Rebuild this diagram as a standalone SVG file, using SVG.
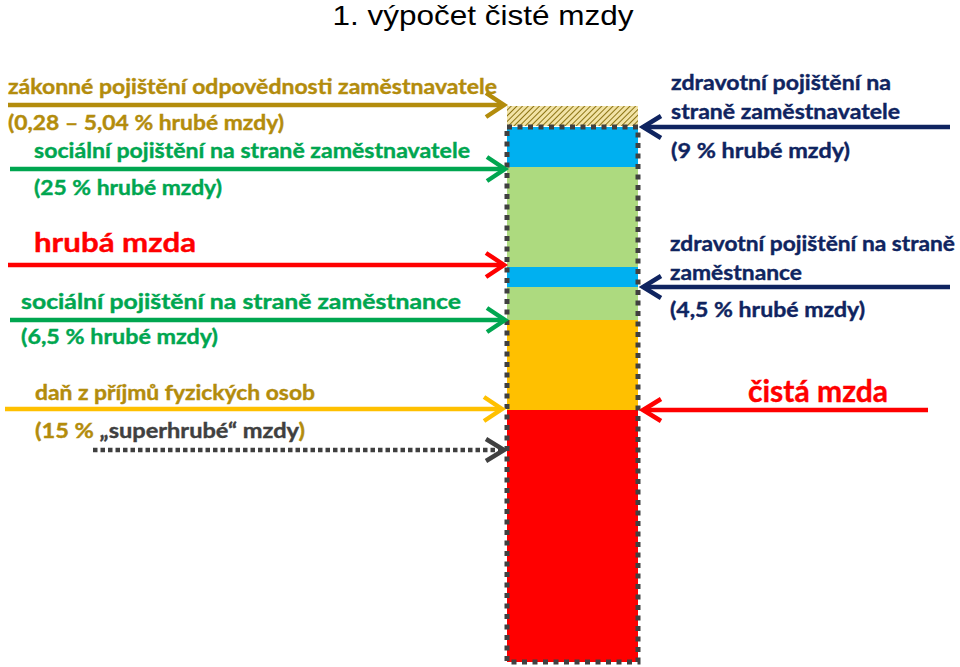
<svg xmlns="http://www.w3.org/2000/svg" width="960" height="667" viewBox="0 0 960 667">
<style>
.t{font-family:Lato,"Open Sans","Liberation Sans",sans-serif;font-weight:bold;font-size:21.5px;stroke-width:0.4px}
.gold{fill:#B38C0C;stroke:#B38C0C}.green{fill:#00A650;stroke:#00A650}.red{fill:#FF0000;stroke:#FF0000}.navy{fill:#0F2460;stroke:#0F2460}.gray{fill:#404040;stroke:#404040}
.ar{fill:none;stroke-width:4.5;stroke-linecap:butt;stroke-linejoin:miter}
</style>
<defs>
<pattern id="hatch" patternUnits="userSpaceOnUse" width="4" height="4" patternTransform="rotate(45)">
<rect width="4" height="4" fill="#F2E3A6"/>
<line x1="0" y1="0" x2="0" y2="4" stroke="#8C7414" stroke-width="2"/>
</pattern>
</defs>
<rect width="960" height="667" fill="#fff"/>
<text x="483" y="25" text-anchor="middle" font-family="Liberation Sans,Arial,sans-serif" font-size="28" textLength="301" lengthAdjust="spacingAndGlyphs">1. výpočet čisté mzdy</text>

<g id="bar">
<rect x="507" y="106" width="131" height="20" fill="url(#hatch)"/>
<rect x="507" y="127" width="131" height="40" fill="#00B0F0"/>
<rect x="507" y="167" width="131" height="100" fill="#ADDA7F"/>
<rect x="507" y="267" width="131" height="20" fill="#00B0F0"/>
<rect x="507" y="287" width="131" height="33" fill="#ADDA7F"/>
<rect x="507" y="320" width="131" height="90" fill="#FFC000"/>
<rect x="507" y="410" width="131" height="252" fill="#FF0000"/>
<rect x="507" y="127" width="131" height="535" fill="none" stroke="#404040" stroke-width="5" stroke-dasharray="5 5.5"/>
</g>

<g id="connectors">
<g stroke="#B38C0C" class="ar"><line x1="8" y1="105" x2="502" y2="105"/><polyline points="486,93 504,105 486,117"/></g>
<g stroke="#00A650" class="ar"><line x1="10" y1="169" x2="503" y2="169"/><polyline points="487,157 505,169 487,181"/></g>
<g stroke="#FF0000" class="ar"><line x1="8" y1="265" x2="502" y2="265"/><polyline points="486,253 504,265 486,277"/></g>
<g stroke="#00A650" class="ar"><line x1="10" y1="320" x2="503" y2="320"/><polyline points="487,308 505,320 487,332"/></g>
<g stroke="#FFC000" class="ar"><line x1="5" y1="409" x2="500" y2="409"/><polyline points="484,397 502,409 484,421"/></g>
<g stroke="#404040" class="ar"><line x1="93" y1="450" x2="502" y2="450" stroke-dasharray="4.5 3"/><polyline points="486,439 504,450 486,461"/></g>
<g stroke="#0F2460" class="ar"><line x1="950" y1="127" x2="643" y2="127"/><polyline points="661,116 643,127 661,138"/></g>
<g stroke="#0F2460" class="ar"><line x1="950" y1="287" x2="643" y2="287"/><polyline points="661,276 643,287 661,298"/></g>
<g stroke="#FF0000" class="ar"><line x1="928" y1="410" x2="643" y2="410"/><polyline points="661,399 643,410 661,421"/></g>
</g>

<g id="employer-liability">
<text class="t gold" x="8" y="94" textLength="489" lengthAdjust="spacingAndGlyphs">zákonné pojištění odpovědnosti zaměstnavatele</text>
<text class="t gold" x="8" y="130" textLength="276" lengthAdjust="spacingAndGlyphs">(0,28 – 5,04 % hrubé mzdy)</text>
</g>
<g id="social-employer">
<text class="t green" x="34" y="158" textLength="436" lengthAdjust="spacingAndGlyphs">sociální pojištění na straně zaměstnavatele</text>
<text class="t green" x="34" y="195" textLength="188" lengthAdjust="spacingAndGlyphs">(25 % hrubé mzdy)</text>
</g>
<g id="gross">
<text class="t red" x="34" y="252" style="font-size:26.5px" textLength="162" lengthAdjust="spacingAndGlyphs">hrubá mzda</text>
</g>
<g id="social-employee">
<text class="t green" x="21" y="309" textLength="440" lengthAdjust="spacingAndGlyphs">sociální pojištění na straně zaměstnance</text>
<text class="t green" x="21" y="344" textLength="197" lengthAdjust="spacingAndGlyphs">(6,5 % hrubé mzdy)</text>
</g>
<g id="income-tax">
<text class="t gold" x="35" y="400" textLength="280" lengthAdjust="spacingAndGlyphs">daň z příjmů fyzických osob</text>
<text class="t gold" x="35" y="438" textLength="270" lengthAdjust="spacingAndGlyphs">(15 % <tspan class="gray">„superhrubé“ mzdy</tspan>)</text>
</g>
<g id="health-employer">
<text class="t navy" x="671" y="90" textLength="220" lengthAdjust="spacingAndGlyphs">zdravotní pojištění na</text>
<text class="t navy" x="671" y="119" textLength="229" lengthAdjust="spacingAndGlyphs">straně zaměstnavatele</text>
<text class="t navy" x="671" y="158" textLength="179" lengthAdjust="spacingAndGlyphs">(9 % hrubé mzdy)</text>
</g>
<g id="health-employee">
<text class="t navy" x="670" y="251" textLength="285" lengthAdjust="spacingAndGlyphs">zdravotní pojištění na straně</text>
<text class="t navy" x="670" y="280" textLength="132" lengthAdjust="spacingAndGlyphs">zaměstnance</text>
<text class="t navy" x="670" y="317" textLength="195" lengthAdjust="spacingAndGlyphs">(4,5 % hrubé mzdy)</text>
</g>
<g id="net">
<text class="t red" x="748" y="402" style="font-size:30px" textLength="140" lengthAdjust="spacingAndGlyphs">čistá mzda</text>
</g>
</svg>
